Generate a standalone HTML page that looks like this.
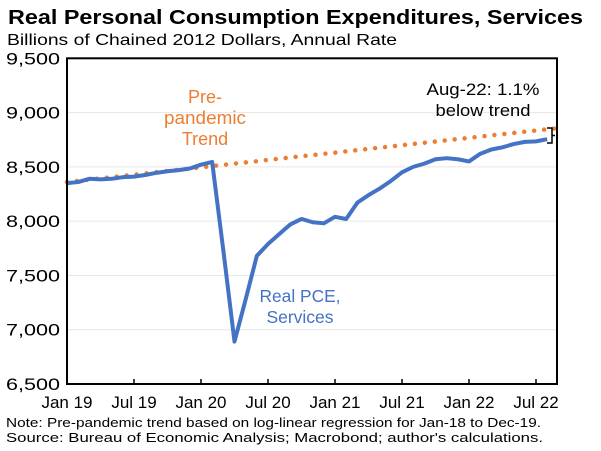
<!DOCTYPE html>
<html><head><meta charset="utf-8"><style>
body{margin:0;background:#fff;}
svg{display:block;font-family:"Liberation Sans",Arial,sans-serif;}
</style></head><body>
<svg width="601" height="451" viewBox="0 0 601 451">
<text x="8" y="24" font-size="20" font-weight="bold" textLength="575" lengthAdjust="spacingAndGlyphs">Real Personal Consumption Expenditures, Services</text>
<text x="7" y="45" font-size="16" textLength="390" lengthAdjust="spacingAndGlyphs">Billions of Chained 2012 Dollars, Annual Rate</text>
<g id="grid"></g>
<g id="yticks"></g>
<g id="xticks"></g>
<g id="series"></g>
<rect x="67" y="58.3" width="490" height="325.7" fill="none" stroke="#000" stroke-width="2"/>
<text x="205" y="103" text-anchor="middle" font-size="18" fill="#ED7D31"><tspan x="205">Pre-</tspan><tspan x="205" dy="21" textLength="82" lengthAdjust="spacingAndGlyphs">pandemic</tspan><tspan x="205" dy="21">Trend</tspan></text>
<text x="300" y="302" text-anchor="middle" font-size="17.5" fill="#4472C4"><tspan x="300" textLength="81" lengthAdjust="spacingAndGlyphs">Real PCE,</tspan><tspan x="300" dy="21">Services</tspan></text>
<text x="483" y="95" text-anchor="middle" font-size="17"><tspan x="483" textLength="113" lengthAdjust="spacingAndGlyphs">Aug-22: 1.1%</tspan><tspan x="483" dy="21" textLength="95" lengthAdjust="spacingAndGlyphs">below trend</tspan></text>
<path d="M547,128 H552 V143 H547 M552,135.5 H555" fill="none" stroke="#000" stroke-width="1.5"/>
<text x="6" y="427" font-size="13" textLength="535" lengthAdjust="spacingAndGlyphs">Note: Pre-pandemic trend based on log-linear regression for Jan-18 to Dec-19.</text>
<text x="6" y="442" font-size="13" textLength="537" lengthAdjust="spacingAndGlyphs">Source: Bureau of Economic Analysis; Macrobond; author's calculations.</text>
</svg>
<script>
const yTicks=[6500,7000,7500,8000,8500,9000,9500];
const yTickLabels=["6,500","7,000","7,500","8,000","8,500","9,000","9,500"];
const xTickIdx=[0,6,12,18,24,30,36,42];
const xTickLabels=["Jan 19","Jul 19","Jan 20","Jul 20","Jan 21","Jul 21","Jan 22","Jul 22"];
const pce=[8350,8360,8390,8385,8390,8405,8410,8425,8445,8460,8470,8485,8520,8545,7730,6890,7280,7680,7790,7880,7970,8020,7990,7980,8040,8020,8170,8240,8300,8370,8450,8500,8530,8570,8580,8570,8550,8620,8660,8680,8710,8730,8735,8755];
const trend=[8360,8371,8383,8394,8405,8417,8428,8439,8451,8462,8473,8484,8496,8507,8518,8530,8541,8552,8564,8575,8586,8598,8609,8620,8631,8643,8654,8665,8677,8688,8699,8711,8722,8733,8745,8756,8767,8778,8790,8801,8812,8824,8835,8846,8857];
const NS="http://www.w3.org/2000/svg";
const X=i=>67+i*(469/42);
const Y=v=>384-(v-6500)*(325.7/3000);
function mk(t,a,p){const e=document.createElementNS(NS,t);for(const k in a)e.setAttribute(k,a[k]);p.appendChild(e);return e;}
const grid=document.getElementById('grid'),yt=document.getElementById('yticks'),xt=document.getElementById('xticks'),ser=document.getElementById('series');
yTicks.forEach((v,i)=>{
 if(v>6500&&v<9500){const g=mk('line',{x1:67,x2:557,y1:Y(v),y2:Y(v),stroke:'#e6e6e6','stroke-width':1},grid);
 
 }
 const t=mk('text',{x:60,y:Y(v)+6,'text-anchor':'end','font-size':17,textLength:54,lengthAdjust:'spacingAndGlyphs'},yt);t.textContent=yTickLabels[i];
 
 
});
xTickIdx.forEach((m,i)=>{
 const l=mk('line',{x1:X(m),x2:X(m),y1:384,y2:379,stroke:'#000','stroke-width':1.5},xt);
 
 
 const t=mk('text',{x:X(m),y:408,'text-anchor':'middle','font-size':17},xt);t.textContent=xTickLabels[i];
 
 
});
const tp=mk('polyline',{points:trend.map((v,i)=>X(i)+','+Y(v)).join(' '),fill:'none',stroke:'#ED7D31','stroke-width':4.5,'stroke-linecap':'round','stroke-dasharray':'0 10'},ser);


const pp=mk('polyline',{points:pce.map((v,i)=>X(i)+','+Y(v)).join(' '),fill:'none',stroke:'#4472C4','stroke-width':4,'stroke-linejoin':'round'},ser);


</script>
</body></html>
